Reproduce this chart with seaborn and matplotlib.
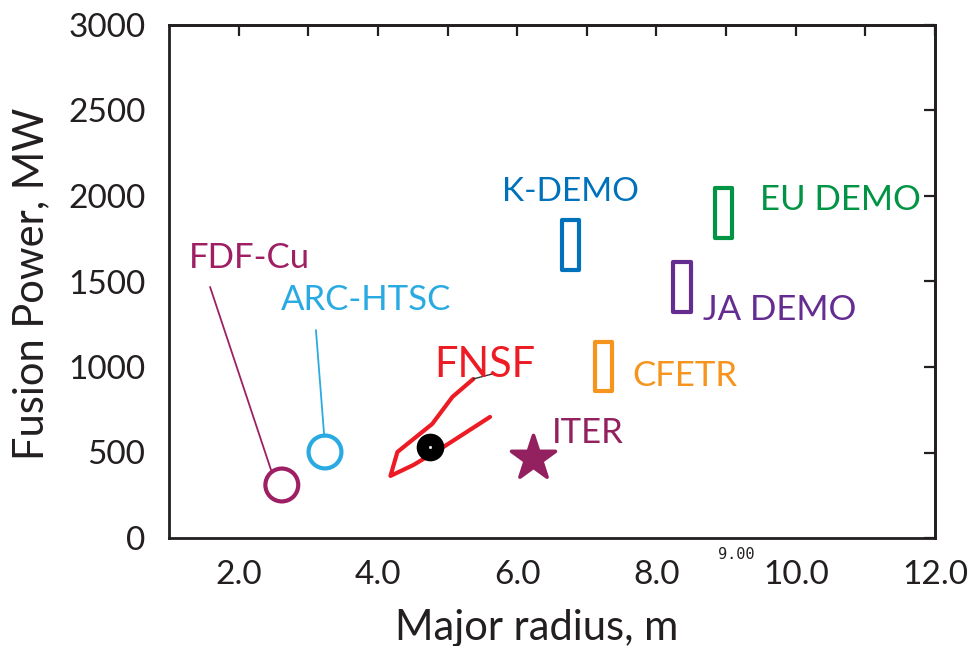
import matplotlib
matplotlib.use("Agg")
import matplotlib.pyplot as plt
from matplotlib.patches import Rectangle
import seaborn as sns

# ---- data ----
circle_names = ["FDF-Cu", "ARC-HTSC"]
circle_r = [2.62, 3.24]
circle_p = [310, 503]
circle_colors = ["#9E1F63", "#29ABE2"]

rect_names = ["K-DEMO", "EU DEMO", "JA DEMO", "CFETR"]
rect_r_lo = [6.65, 8.84, 8.24, 7.12]
rect_r_hi = [6.89, 9.09, 8.50, 7.36]
rect_p_lo = [1567, 1754, 1322, 860]
rect_p_hi = [1860, 2047, 1614, 1146]
rect_colors = ["#0072BC", "#009444", "#662D91", "#F7941D"]

fnsf_r = [5.61, 4.94, 4.51, 4.18, 4.28, 4.78, 5.07, 5.37]
fnsf_p = [708, 532, 427, 363, 503, 667, 825, 930]
fnsf_tail_r = [5.37, 5.64]
fnsf_tail_p = [930, 959]
fnsf_point_r = [4.75]
fnsf_point_p = [532]

iter_r = [6.23]
iter_p = [468]

label_texts = ["FDF-Cu", "ARC-HTSC", "FNSF", "ITER", "K-DEMO", "EU DEMO", "JA DEMO", "CFETR"]
label_r = [2.16, 3.83, 5.54, 6.50, 6.76, 9.48, 8.67, 7.65]
label_p = [1637, 1392, 1012, 614, 2025, 1977, 1333, 947]
label_colors = ["#9E1F63", "#29ABE2", "#ED1C24", "#93215F", "#0072BC", "#009444", "#662D91", "#F7941D"]
label_ha = ["center", "center", "center", "left", "center", "left", "left", "left"]
label_sizes = [25, 25, 30, 25, 24, 25, 25, 25]

leader_fdf_r = [1.59, 2.47]
leader_fdf_p = [1468, 392]
leader_arc_r = [3.11, 3.23]
leader_arc_p = [1216, 591]

x_ticks = [1, 2, 3, 4, 5, 6, 7, 8, 9, 10, 11, 12]
x_ticklabels = ["", "2.0", "", "4.0", "", "6.0", "", "8.0", "", "10.0", "", "12.0"]
y_ticks = [0, 500, 1000, 1500, 2000, 2500, 3000]

# ---- plot ----
sns.set_theme(style="white")
plt.rcParams["font.family"] = ["Lato", "DejaVu Sans"]
ink = "#231F20"

fig = plt.figure(figsize=(9.69, 6.46), dpi=100)
ax = fig.add_axes([169/969, 1-538/646, (935-169)/969, (538-25)/646])

# FNSF outline
sns.lineplot(x=fnsf_r, y=fnsf_p, sort=False, ax=ax, color="#ED1C24", lw=3, estimator=None)
sns.lineplot(x=fnsf_tail_r, y=fnsf_tail_p, sort=False, ax=ax, color="#333333", lw=1, estimator=None)

# circles
for r, p, c in zip(circle_r, circle_p, circle_colors):
    sns.scatterplot(x=[r], y=[p], ax=ax, s=560, facecolors="none", edgecolor=c, linewidth=3, marker="o")

# FNSF point
sns.scatterplot(x=fnsf_point_r, y=fnsf_point_p, ax=ax, s=340, color="black", edgecolor="black", zorder=5)
sns.scatterplot(x=fnsf_point_r, y=fnsf_point_p, ax=ax, s=4, color="white", edgecolor="white", zorder=6)

# ITER star
sns.scatterplot(x=iter_r, y=iter_p, ax=ax, s=1100, marker="*", color="#93215F", edgecolor="#93215F", zorder=5)

# rectangles
for lo_r, hi_r, lo_p, hi_p, c in zip(rect_r_lo, rect_r_hi, rect_p_lo, rect_p_hi, rect_colors):
    ax.add_patch(Rectangle((lo_r, lo_p), hi_r - lo_r, hi_p - lo_p, fill=False,
                           edgecolor=c, lw=3, joinstyle="round"))

# leader lines
ax.plot(leader_fdf_r, leader_fdf_p, color="#9E1F63", lw=1.3)
ax.plot(leader_arc_r, leader_arc_p, color="#29ABE2", lw=1.3)

# labels
for t, r, p, c, ha, fs in zip(label_texts, label_r, label_p, label_colors, label_ha, label_sizes):
    ax.text(r, p, t, color=c, fontsize=fs, ha=ha, va="center")

ax.set_xlim(1, 12)
ax.set_ylim(0, 3000)
ax.set_xticks(x_ticks)
ax.set_xticklabels(x_ticklabels)
ax.set_yticks(y_ticks)

for s in ax.spines.values():
    s.set_color(ink)
    s.set_linewidth(2)

ax.tick_params(axis="x", direction="out", length=6, width=1.6, colors=ink, labelsize=24, pad=10, labelcolor=ink)
ax.tick_params(axis="y", direction="out", length=9, width=1.6, colors=ink, labelsize=24, pad=8, labelcolor=ink)

top = ax.secondary_xaxis("top")
top.set_xticks(x_ticks[1:])
top.set_xticklabels([])
top.tick_params(direction="in", length=8, width=1.6, colors=ink)
top.spines["top"].set_linewidth(2)
right = ax.secondary_yaxis("right")
right.set_yticks(y_ticks)
right.set_yticklabels([])
right.tick_params(direction="in", length=8, width=1.6, colors=ink)
right.spines["right"].set_linewidth(2)

ax.set_xlabel("Major radius, m", fontsize=30, color=ink, va="baseline")
ax.xaxis.set_label_coords(0.48, (538 - 640) / 513)
ax.set_ylabel("Fusion Power, MW", fontsize=30, color=ink, va="baseline")
ax.yaxis.set_label_coords((43 - 169) / 766, 0.495)

ax.text(9.15, -99, "9.00", fontsize=11, family="DejaVu Sans Mono", color=ink, ha="center", va="center", clip_on=False)

fig.savefig("out.png", dpi=100)
